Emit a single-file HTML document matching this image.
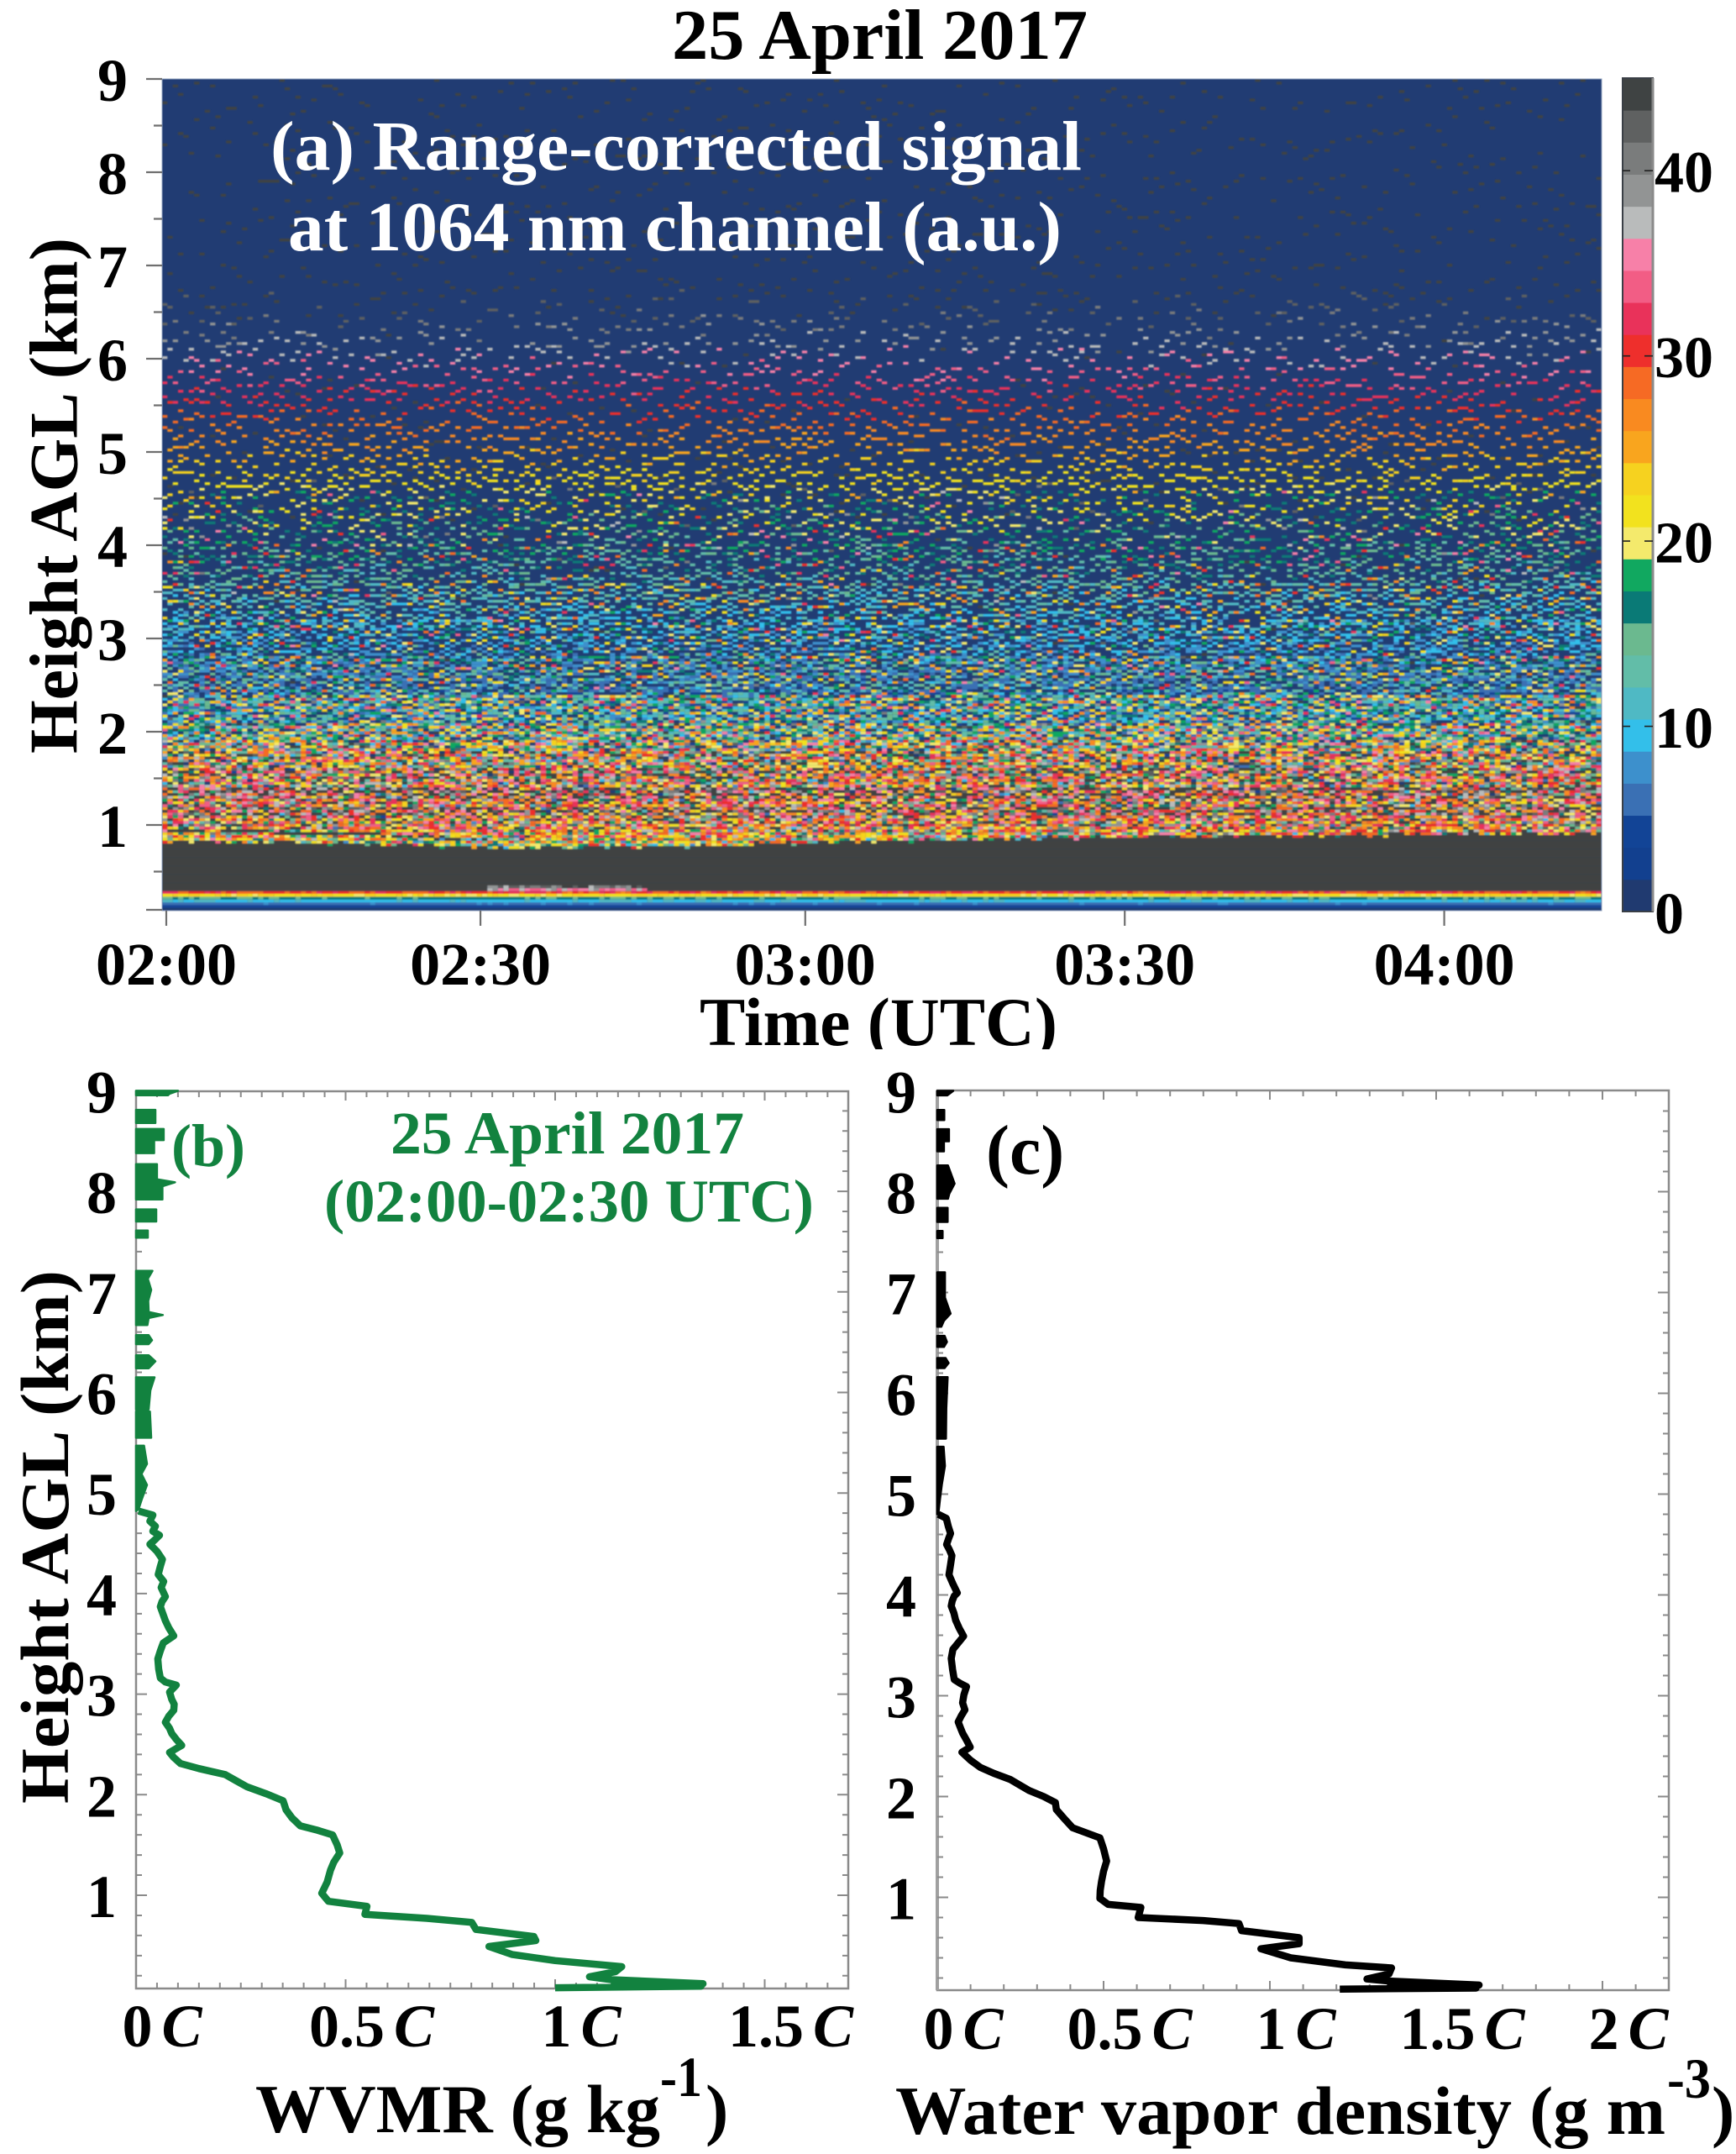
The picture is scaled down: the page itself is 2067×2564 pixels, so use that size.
<!DOCTYPE html>
<html lang="en">
<head>
<meta charset="utf-8">
<title>25 April 2017 lidar range-corrected signal and water vapor profiles</title>
<style>
html,body{margin:0;padding:0;background:#fff;}
#figure{display:block;width:2067px;height:2564px;}
text{font-family:"Liberation Serif",serif;font-weight:bold;fill:#000;}
</style>
</head>
<body>
<svg id="figure" xmlns="http://www.w3.org/2000/svg" width="2067" height="2564" viewBox="0 0 2067 2564">
  <defs>
    <clipPath id="heatClip"><rect x="193" y="94" width="1714" height="990"/></clipPath>
    <clipPath id="timeTitleClip"><rect x="800" y="1170" width="500" height="79"/></clipPath>
    <filter id="soften" filterUnits="userSpaceOnUse" x="193" y="94" width="1714" height="990"><feGaussianBlur stdDeviation="0.7"/></filter>
  </defs>
  <rect x="0" y="0" width="2067" height="2564" fill="#fff"/>

  <text x="800" y="70" font-size="85" textLength="495" lengthAdjust="spacingAndGlyphs">25 April 2017</text>

  <g id="panelA">
    <rect x="193" y="94" width="1714" height="990" fill="#213c73"/>
    <g id="heatCells" clip-path="url(#heatClip)"></g>
    <rect x="193" y="94" width="1714" height="990" fill="none" stroke="#8fa0bc" stroke-width="1"/>
    <text x="322" y="202" font-size="84" textLength="966" lengthAdjust="spacingAndGlyphs" style="fill:#fff">(a) Range-corrected signal</text>
    <text x="343" y="298" font-size="84" textLength="921" lengthAdjust="spacingAndGlyphs" style="fill:#fff">at 1064 nm channel (a.u.)</text>
    <text transform="translate(91.5 897) rotate(-90)" font-size="82" textLength="614" lengthAdjust="spacingAndGlyphs">Height AGL (km)</text>
    <g clip-path="url(#timeTitleClip)">
      <text x="833" y="1244" font-size="82" textLength="426" lengthAdjust="spacingAndGlyphs">Time (UTC)</text>
    </g>
    <g id="axesA"></g>
    <g id="colorbar"></g>
  </g>

  <g id="panelB">
    <rect x="162" y="1299" width="848" height="1068" fill="#fff" stroke="#8a8a8a" stroke-width="2.5"/>
    <g id="axesB"></g>
    <g id="seriesB"></g>
    <text x="204" y="1388" font-size="72" style="fill:#12823f">(b)</text>
    <text x="465" y="1373" font-size="72" textLength="421" lengthAdjust="spacingAndGlyphs" style="fill:#12823f">25 April 2017</text>
    <text x="386" y="1454" font-size="72" textLength="583" lengthAdjust="spacingAndGlyphs" style="fill:#12823f">(02:00-02:30 UTC)</text>
    <text transform="translate(81 2147) rotate(-90)" font-size="82" textLength="635" lengthAdjust="spacingAndGlyphs">Height AGL (km)</text>
    <g>
      <text x="304" y="2538" font-size="82" textLength="482" lengthAdjust="spacingAndGlyphs">WVMR (g kg</text>
      <text x="786" y="2495" font-size="68" textLength="50" lengthAdjust="spacingAndGlyphs">-1</text>
      <text x="840" y="2538" font-size="82">)</text>
    </g>
  </g>

  <g id="panelC">
    <rect x="1116" y="1298" width="871" height="1071" fill="#fff" stroke="#8a8a8a" stroke-width="2.5"/>
    <line x1="1116" y1="1298" x2="1116" y2="2369" stroke="#a0a0a0" stroke-width="4"/>
    <g id="axesC"></g>
    <g id="seriesC"></g>
    <text x="1174" y="1397" font-size="84">(c)</text>
    <g>
      <text x="1066" y="2540" font-size="82" textLength="917" lengthAdjust="spacingAndGlyphs">Water vapor density (g m</text>
      <text x="1985" y="2497" font-size="68" textLength="52" lengthAdjust="spacingAndGlyphs">-3</text>
      <text x="2038" y="2540" font-size="82">)</text>
    </g>
  </g>
</svg>

<script>
/* ---------- Panel (a) data: estimates ---------- */
var colorbarColors = ["#203a70","#12408f","#124496","#3a70b4","#3d90cc","#33bfea","#4fb9c4","#62bda8","#6bb98f","#0a7a76","#11a860","#f4ea6c","#f2e21e","#f6d21f","#f9a51e","#f98a20","#f66a24","#ee2f2c","#e9325a","#f25d85","#f780a8","#b9bbbb","#929494","#7a7c7c","#5f6161","#3f4343"];
var colorbarTicks = [0,10,20,30,40];
var colorbarMax = 45;
var timeTickMinutes = [0,29.5,60,90,120];
var timeTickLabels = ["02:00","02:30","03:00","03:30","04:00"];
var heightTicksA = [1,2,3,4,5,6,7,8,9];
var heightLabelsA = ["1","2","3","4","5","6","7","8","9"];

/* Height bands (upper edge, km) and mean photon level in each band */
var bandTops = [9,7,6.75,6.5,6.2,5.8,5.3,4.8,4.4,4.0,3.6,3.2,2.8,2.4,2.1,1.9,1.8,1.6,1.4,1.2,1.0];
var bandMeanCounts = [0.035,0.045,0.06,0.08,0.11,0.15,0.18,0.25,0.28,0.38,0.55,0.75,1.3,2.6,4.2,6.5,9.5,14,21,28,32];

/* Saturated aerosol layer: top and base height through time */
var layerMinutes = [0,5,10,15,20,25,30,35,40,45,50,55,60,65,70,75,80,85,90,95,100,105,110,115,120,125,130,135];
var layerTopKm = [0.82,0.82,0.81,0.80,0.78,0.76,0.75,0.76,0.76,0.77,0.78,0.80,0.82,0.83,0.84,0.85,0.85,0.86,0.87,0.88,0.89,0.88,0.89,0.90,0.91,0.90,0.90,0.90];
var layerBaseKm = [0.30,0.30,0.30,0.30,0.30,0.30,0.34,0.34,0.34,0.30,0.30,0.30,0.30,0.30,0.30,0.30,0.30,0.30,0.30,0.30,0.28,0.28,0.28,0.28,0.28,0.28,0.28,0.28];

/* Thin dark streak just above the layer in the first half hour */
var streakMinutes = [0,5,10,15,20,25];
var streakKm = [0.94,0.93,0.92,0.90,0.87,0.85];

/* Near-ground band below the saturated layer */
var groundTops = [0.34,0.315,0.285,0.255,0.225,0.195,0.165,0.135,0.105];
var groundSignal = [41,36,30,22,16,10,6.5,3.8,1.5];

/* Rendering dither table for the speckle (not data) */
var ditherTable = [41,7,88,23,62,3,75,50,19,94,33,68,12,81,56,27,90,5,71,38,60,15,96,44,9,79,30,66,21,85,52,1,73,36,92,17,58,48,83,11,64,26,77,42,6,89,31,54,14,95,69,24,47,2,80,35,61,18,87,10,70,40,29,93,53,4,76,22,65,37,91,13,57,46,82,8,72,28,63,16,86,39,51,0,78,25,67,43,20,84,34,59,74,45,32,55,49];

/* ---------- Panel (b) WVMR profile ---------- */
var wvmrTicks = [0,0.5,1,1.5];
var wvmrTickLabels = ["0","0.5","1","1.5"];
var wvmrUpperHeights = [
 9,9,8.97,8.955,8.955,null,
 8.81,8.81,8.68,8.68,null,
 8.62,8.62,8.51,8.51,8.38,8.38,null,
 8.27,8.27,8.12,8.09,8.05,7.92,7.92,null,
 7.82,7.82,7.70,7.70,null,
 7.61,7.61,7.54,7.54,null,
 7.21,7.21,7.13,7.02,6.91,6.80,6.77,6.74,6.67,6.67,null,
 6.57,6.57,6.52,6.48,6.48,null,
 6.37,6.37,6.31,6.24,6.24,null,
 6.15,6.15,6.02,5.83,5.83,null,
 5.81,5.81,5.55,5.55,null,
 5.47,5.47,5.29,5.19,5.08,4.93,4.84,4.82];
var wvmrUpperValues = [
 0,0.1,0.08,0.076,0,null,
 0,0.046,0.046,0,null,
 0,0.066,0.066,0.043,0.043,0,null,
 0,0.05,0.05,0.093,0.063,0.063,0,null,
 0,0.048,0.048,0,null,
 0,0.028,0.028,0,null,
 0,0.039,0.028,0.036,0.029,0.03,0.064,0.03,0.027,0,null,
 0,0.03,0.038,0.03,0,null,
 0,0.03,0.046,0.03,0,null,
 0,0.044,0.034,0.03,0,null,
 0,0.033,0.036,0,null,
 0,0.019,0.026,0.013,0.026,0.013,0.006,0];
var wvmrLowerHeights = [4.82,4.78,4.72,4.67,4.62,4.58,4.54,4.49,4.42,4.34,4.27,4.19,4.12,4.06,3.97,3.92,3.87,3.80,3.73,3.66,3.58,3.51,3.43,3.35,3.25,3.16,3.12,3.09,3.02,2.95,2.90,2.84,2.78,2.72,2.66,2.61,2.55,2.49,2.42,2.37,2.31,2.26,2.20,2.14,2.08,2.01,1.94,1.85,1.77,1.69,1.65,1.60,1.50,1.42,1.33,1.25,1.13,1.02,0.94,0.89,0.81,0.77,0.73,0.66,0.59,0.55,0.49,0.41,0.35,0.29,0.24,0.19,0.16,0.12,0.105,0.095,0.08];
var wvmrLowerValues = [0.006,0.04,0.033,0.046,0.04,0.056,0.046,0.033,0.05,0.063,0.058,0.053,0.066,0.06,0.07,0.062,0.058,0.064,0.07,0.078,0.09,0.065,0.058,0.052,0.054,0.058,0.07,0.096,0.08,0.085,0.091,0.09,0.078,0.07,0.08,0.085,0.096,0.109,0.08,0.09,0.106,0.15,0.213,0.238,0.264,0.31,0.351,0.358,0.372,0.392,0.43,0.469,0.48,0.486,0.472,0.464,0.456,0.443,0.459,0.551,0.546,0.694,0.801,0.811,0.949,0.954,0.842,0.898,1.0,1.159,1.144,1.082,1.134,1.353,1.14,1.348,1.0];

/* ---------- Panel (c) water vapor density profile ---------- */
var densityTicks = [0,0.5,1,1.5,2];
var densityTickLabels = ["0","0.5","1","1.5","2"];
var densityUpperHeights = [
 9,9,8.955,8.955,null,
 8.81,8.81,8.71,8.71,null,
 8.62,8.62,8.5,8.5,8.4,8.4,null,
 8.26,8.26,8.08,7.98,7.93,7.93,null,
 7.84,7.84,7.70,7.70,null,
 7.61,7.61,7.54,7.54,null,
 7.2,7.2,6.95,6.79,6.72,6.66,6.66,null,
 6.57,6.57,6.51,6.46,6.46,null,
 6.35,6.35,6.3,6.25,6.25,null,
 6.16,6.16,5.85,5.55,5.55,null,
 5.47,5.47,5.28,5.1,4.95,4.80,4.80];
var densityUpperValues = [
 0,0.048,0.03,0,null,
 0,0.021,0.021,0,null,
 0,0.035,0.035,0.02,0.02,0,null,
 0,0.032,0.052,0.036,0.032,0,null,
 0,0.031,0.031,0,null,
 0,0.016,0.016,0,null,
 0,0.023,0.023,0.04,0.02,0.012,0,null,
 0,0.022,0.029,0.02,0,null,
 0,0.025,0.034,0.022,0,null,
 0,0.031,0.027,0.026,0,null,
 0,0.019,0.023,0.014,0.008,0.003,0];
var densityLowerHeights = [4.80,4.76,4.68,4.61,4.56,4.50,4.45,4.39,4.30,4.20,4.11,4.02,3.99,3.94,3.89,3.82,3.75,3.67,3.59,3.46,3.37,3.26,3.16,3.12,3.09,3.01,2.93,2.86,2.80,2.74,2.68,2.63,2.56,2.49,2.44,2.36,2.29,2.23,2.17,2.11,2.06,2.00,1.94,1.87,1.78,1.69,1.59,1.48,1.36,1.26,1.16,1.07,0.99,0.93,0.90,0.80,0.77,0.74,0.67,0.60,0.54,0.49,0.40,0.33,0.30,0.24,0.19,0.17,0.13,0.11,0.10,0.09];
var densityLowerValues = [0.003,0.027,0.033,0.04,0.034,0.028,0.036,0.044,0.04,0.035,0.047,0.06,0.051,0.045,0.042,0.05,0.055,0.066,0.079,0.047,0.042,0.046,0.051,0.07,0.088,0.08,0.076,0.083,0.072,0.063,0.07,0.076,0.088,0.099,0.074,0.1,0.129,0.17,0.219,0.25,0.276,0.32,0.355,0.358,0.382,0.407,0.489,0.5,0.509,0.5,0.494,0.49,0.489,0.514,0.612,0.604,0.8,0.907,0.915,1.088,1.088,0.973,1.063,1.227,1.366,1.358,1.292,1.358,1.629,1.36,1.62,1.21];

var profileHeightTicks = [1,2,3,4,5,6,7,8,9];
var profileHeightLabels = ["1","2","3","4","5","6","7","8","9"];

/* ---------- helpers ---------- */
var SVGNS = "http://www.w3.org/2000/svg";
function make(tag, parent, attrs) {
  var el = document.createElementNS(SVGNS, tag);
  for (var k in attrs) { el.setAttribute(k, attrs[k]); }
  parent.appendChild(el);
  return el;
}
function byId(id) { return document.getElementById(id); }

/* ---------- Panel (a) axes ---------- */
var xTime = function (m) { return 198 + 12.68 * m; };
var yA = function (h) { return 94 + (9 - h) * 111; };

(function drawAxesA() {
  var g = byId("axesA");
  var major = "", minor = "";
  heightTicksA.forEach(function (h) { major += "M174 " + yA(h) + "H193"; });
  major += "M174 " + yA(0.09) + "H193";
  for (var h = 0.5; h < 9; h += 1) { minor += "M183 " + yA(h) + "H193"; }
  timeTickMinutes.forEach(function (m) { major += "M" + xTime(m) + " 1084V1102"; });
  var p = make("path", g, {d: major + minor, stroke: "#6f6f6f", "stroke-width": 2.2, fill: "none"});
  
  
  heightTicksA.forEach(function (h, i) {
    var t = make("text", g, {x: 134, y: yA(h) + 26, "font-size": 72, "text-anchor": "middle"});
    t.textContent = heightLabelsA[i];
    
    
  });
  timeTickMinutes.forEach(function (m, i) {
    var t = make("text", g, {x: xTime(m), y: 1172, "font-size": 72, "text-anchor": "middle"});
    t.textContent = timeTickLabels[i];
    
    
  });
})();

/* ---------- Panel (a) heatmap ---------- */
function stepLookup(tops, values, h) {
  var out = values[0];
  for (var i = 0; i < tops.length; i++) { if (h <= tops[i]) { out = values[i]; } }
  return out;
}
function levelFor(v) {
  var l = Math.floor(v / colorbarMax * colorbarColors.length);
  return Math.max(0, Math.min(colorbarColors.length - 1, l));
}
function countFor(m, u) {
  if (m > 3) {
    var z = Math.log(u / (1 - u)) / 1.7;
    return Math.max(0, m + 1.3 * Math.sqrt(m) * z);
  }
  var p = Math.exp(-m), F = p, k = 0;
  while (u > F && k < 30) { k++; p *= m / k; F += p; }
  return k;
}
function ditherAt(c, r) {
  var L = ditherTable.length;
  var inner = (ditherTable[c % L] + Math.floor(c / L) * 5 + Math.floor(r / L) * 11) % L;
  var i = (ditherTable[inner] + r) % L;
  return (ditherTable[i] + 0.5) / L;
}
function layerValue(arr, minute) {
  var idx = 0;
  for (var i = 0; i < layerMinutes.length; i++) { if (minute >= layerMinutes[i]) { idx = i; } }
  return arr[idx];
}
function streakAt(minute) {
  var idx = -1;
  for (var i = 0; i < streakMinutes.length; i++) { if (minute >= streakMinutes[i]) { idx = i; } }
  return (idx < 0 || minute > 30) ? -1 : streakKm[idx];
}

(function drawHeatmap() {
  var rows = 297, cols = 270, cellW = 1714 / cols, cellH = 990 / rows;
  var g = byId("heatCells");
  g.setAttribute("filter", "url(#soften)");
  var paths = colorbarColors.map(function () { return []; });
  for (var r = 0; r < rows; r++) {
    var yTop = 94 + r * cellH;
    var h = 9 - (yTop + cellH / 2 - 94) / 111;
    var runLevel = -1, runStart = 0;
    for (var c = 0; c <= cols; c++) {
      var level = -1;
      if (c < cols) {
        var xLeft = 193 + c * cellW;
        var minute = (xLeft + cellW / 2 - 198) / 12.68;
        var u = ditherAt(c, r);
        var u2 = ditherAt(c + 13, r + 7);
        var u3 = ditherAt(c + 29, r + 19);
        var top = layerValue(layerTopKm, minute) + (ditherAt(c, 5) - 0.5) * 0.04;
        var base = layerValue(layerBaseKm, minute);
        var v;
        if (h <= base) {
          v = stepLookup(groundTops, groundSignal, h - (base > 0.3 ? (base - 0.3) * 0.5 : 0)) * (1 + (u - 0.5) * 0.16);
        } else if (h <= top) {
          v = colorbarMax;
        } else if (Math.abs(h - streakAt(minute)) < 0.016 && u > 0.3) {
          v = colorbarMax;
        } else {
          var mean = stepLookup(bandTops, bandMeanCounts, h);
          var spread = mean > 1.5 ? 0.3 : 0.65;
          var jitter = h < 4.6 ? 0.22 : 0.05;
          v = countFor(mean * (1 - spread + 2 * spread * u2), u) * h * h * (1 + (u3 - 0.5) * 2 * jitter);
        }
        level = v <= 0 ? 0 : levelFor(v);
      }
      if (level !== runLevel) {
        if (runLevel > 0) {
          paths[runLevel].push("M" + (193 + runStart * cellW).toFixed(1) + " " + yTop.toFixed(1) + "h" + ((c - runStart) * cellW).toFixed(1) + "v" + cellH.toFixed(2) + "h-" + ((c - runStart) * cellW).toFixed(1) + "z");
        }
        runLevel = level;
        runStart = c;
      }
    }
  }
  paths.forEach(function (segs, i) {
    if (!segs.length) { return; }
    var p = make("path", g, {d: segs.join(""), fill: colorbarColors[i]});
    
    
  });
})();

/* ---------- Colorbar ---------- */
(function drawColorbar() {
  var g = byId("colorbar");
  var yBar = function (v) { return 1085 - v * (992 / colorbarMax); };
  var binV = colorbarMax / colorbarColors.length;
  colorbarColors.forEach(function (col, i) {
    var y1 = yBar((i + 1) * binV), y0 = yBar(i * binV);
    var b = make("rect", g, {x: 1932, y: y1, width: 36, height: y0 - y1 + 0.5, fill: col});
    
    
  });
  var f = make("rect", g, {x: 1932, y: 93, width: 36, height: 992, fill: "none", stroke: "#3a3f46", "stroke-width": 2});
  
  
  var edge = make("line", g, {x1: 1968, y1: 93, x2: 1968, y2: 1085, stroke: "#8a8a8a", "stroke-width": 3});
  
  
  var d = "";
  colorbarTicks.forEach(function (v) {
    if (v > 0) { d += "M1932 " + yBar(v) + "h9M1958 " + yBar(v) + "h10"; }
  });
  var tk = make("path", g, {d: d, stroke: "#222", "stroke-width": 1.6, fill: "none"});
  
  
  colorbarTicks.forEach(function (v) {
    var t = make("text", g, {x: 1970, y: yBar(v) + (v === 0 ? 26 : 25.5), "font-size": 70, "text-anchor": "start"});
    t.textContent = String(v);
    
    
  });
})();

/* ---------- Profile panels ---------- */
function profilePath(heights, values, xs, ys, closeEach) {
  var d = "", pen = false;
  for (var i = 0; i < heights.length; i++) {
    if (heights[i] === null) { if (closeEach && pen) { d += "Z"; } pen = false; continue; }
    d += (pen ? "L" : "M") + xs(values[i]).toFixed(1) + " " + ys(heights[i]).toFixed(1);
    pen = true;
  }
  if (closeEach && pen) { d += "Z"; }
  return d;
}

function drawProfileAxes(g, box, xs, ys, xMinorStep, xMajorEvery, xTicks, xLabels, labelOffset, labelY, yLabelX) {
  var d = "", n = 0, v = 0;
  while (xs(v) < box.right - 2) {
    var len = (n % xMajorEvery === 0) ? 11 : 7;
    if (n > 0) { d += "M" + xs(v) + " " + box.bottom + "v-" + len + "M" + xs(v) + " " + box.top + "v" + len; }
    n++;
    v = n * xMinorStep;
  }
  for (var i = 1; i * 0.2 < 9; i++) {
    var h = i * 0.2;
    if (ys(h) > box.bottom - 2) { continue; }
    var l = (i % 5 === 0) ? 13 : 7;
    d += "M" + box.left + " " + ys(h) + "h" + l + "M" + box.right + " " + ys(h) + "h-" + l;
  }
  var p = make("path", g, {d: d, stroke: "#8a8a8a", "stroke-width": 2, fill: "none"});
  
  
  profileHeightTicks.forEach(function (hv, j) {
    var t = make("text", g, {x: yLabelX, y: ys(hv) + 26, "font-size": 72, "text-anchor": "middle"});
    t.textContent = profileHeightLabels[j];
    
    
  });
  xTicks.forEach(function (tv, j) {
    var t = make("text", g, {x: xs(tv) + labelOffset, y: labelY, "font-size": 72, "text-anchor": "middle"});
    t.appendChild(document.createTextNode(xLabels[j]));
    var c = make("tspan", t, {"font-style": "italic", dx: 11});
    c.textContent = "C";
    
    
  });
}

function drawSeries(g, color, upperH, upperV, lowerH, lowerV, xs, ys) {
  var up = make("path", g, {d: profilePath(upperH, upperV, xs, ys, true), fill: color, stroke: color, "stroke-width": 2.5, "stroke-linejoin": "round"});
  
  
  var low = make("path", g, {d: profilePath(lowerH, lowerV, xs, ys, false), fill: "none", stroke: color, "stroke-width": 8.5, "stroke-linejoin": "round", "stroke-linecap": "butt"});
  
  
}

var xB = function (v) { return 162 + 499 * v; };
var yB = function (h) { return 2256 - (h - 1) * 119.7; };
var xC = function (v) { return 1116 + 396 * v; };
var yC = function (h) { return 2258.5 - (h - 1) * 120; };

drawProfileAxes(byId("axesB"), {left: 162, right: 1010, top: 1299, bottom: 2367}, xB, yB, 0.05, 10, wvmrTicks, wvmrTickLabels, 31, 2436, 121);
drawProfileAxes(byId("axesC"), {left: 1116, right: 1987, top: 1298, bottom: 2369}, xC, yC, 0.1, 5, densityTicks, densityTickLabels, 31, 2439, 1073);
drawSeries(byId("seriesB"), "#12823f", wvmrUpperHeights, wvmrUpperValues, wvmrLowerHeights, wvmrLowerValues, xB, yB);
drawSeries(byId("seriesC"), "#000000", densityUpperHeights, densityUpperValues, densityLowerHeights, densityLowerValues, xC, yC);
</script>
</body>
</html>
